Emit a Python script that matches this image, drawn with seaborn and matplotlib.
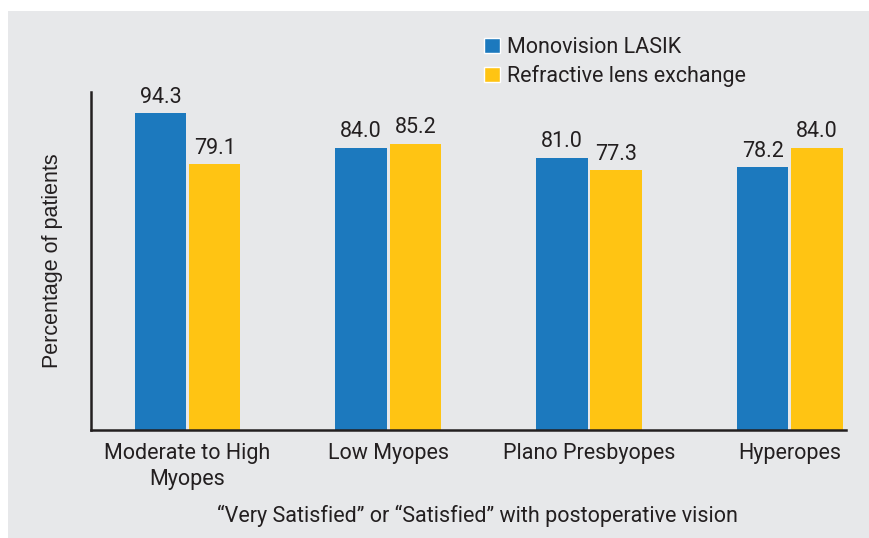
import seaborn as sb
from matplotlib import pyplot as plt
from matplotlib.patches import Patch, Rectangle
import pandas as pd

# chart data
groups = ['Moderate to High\nMyopes', 'Low Myopes', 'Plano Presbyopes', 'Hyperopes']
series = ['Monovision LASIK', 'Refractive lens exchange']
lasik = [94.3, 84.0, 81.0, 78.2]
rle = [79.1, 85.2, 77.3, 84.0]
colors = ['#1c79be', '#ffc413']
ink = '#231f20'

df = pd.DataFrame({
    'group': groups * 2,
    'treatment': [series[0]] * len(groups) + [series[1]] * len(groups),
    'pct': lasik + rle,
})

sb.set_style('white')
plt.rcParams['font.family'] = ['Roboto', 'DejaVu Sans']

fig = plt.figure(figsize=(8.69, 5.38), dpi=100, facecolor='white')
# grey panel behind the chart
fig.patches.append(Rectangle((8 / 869, 0), 1, 1 - 11 / 538, transform=fig.transFigure,
                             facecolor='#e7e8ea', edgecolor='none', zorder=-10))

ax = fig.add_axes([91 / 869, 1 - 430 / 538, (846 - 91) / 869, (430 - 92) / 538])
ax.set_facecolor('none')

sb.barplot(data=df, x='group', y='pct', hue='treatment', order=groups, hue_order=series,
           palette=colors, width=0.54, gap=0.05, saturation=1, linewidth=0,
           legend=False, ax=ax)

for c in ax.containers:
    ax.bar_label(c, fmt='%.1f', padding=4, fontsize=15.5, color=ink)

ax.set_xlim(-0.4806, 3.28)
ax.set_ylim(0, 100.6)
ax.set_yticks([])
ax.set_xticks(range(len(groups)), labels=groups, linespacing=1.35)
ax.tick_params(axis='x', length=0, pad=9, labelsize=15.5, labelcolor=ink)

for s in ['top', 'right']:
    ax.spines[s].set_visible(False)
for s in ['left', 'bottom']:
    ax.spines[s].set_color(ink)
    ax.spines[s].set_linewidth(1.8)

ax.set_xlabel('\u201cVery Satisfied\u201d or \u201cSatisfied\u201d with postoperative vision',
              fontsize=15.5, color=ink)
ax.xaxis.set_label_coords((477 - 91) / (846 - 91), -0.222)
ax.set_ylabel('Percentage of patients', fontsize=15.5, color=ink,
              family=['Liberation Sans', 'DejaVu Sans'], labelpad=20)

handles = [Patch(facecolor=colors[0]), Patch(facecolor=colors[1])]
fig.legend(handles, series, loc='upper left', bbox_to_anchor=(484 / 869, 1 - 37 / 538),
           frameon=False, fontsize=15.5, handlelength=0.72, handleheight=0.72,
           handletextpad=0.35, labelspacing=0.33, borderpad=0, borderaxespad=0,
           labelcolor=ink)

plt.savefig('out.png', dpi=100, facecolor='white')
